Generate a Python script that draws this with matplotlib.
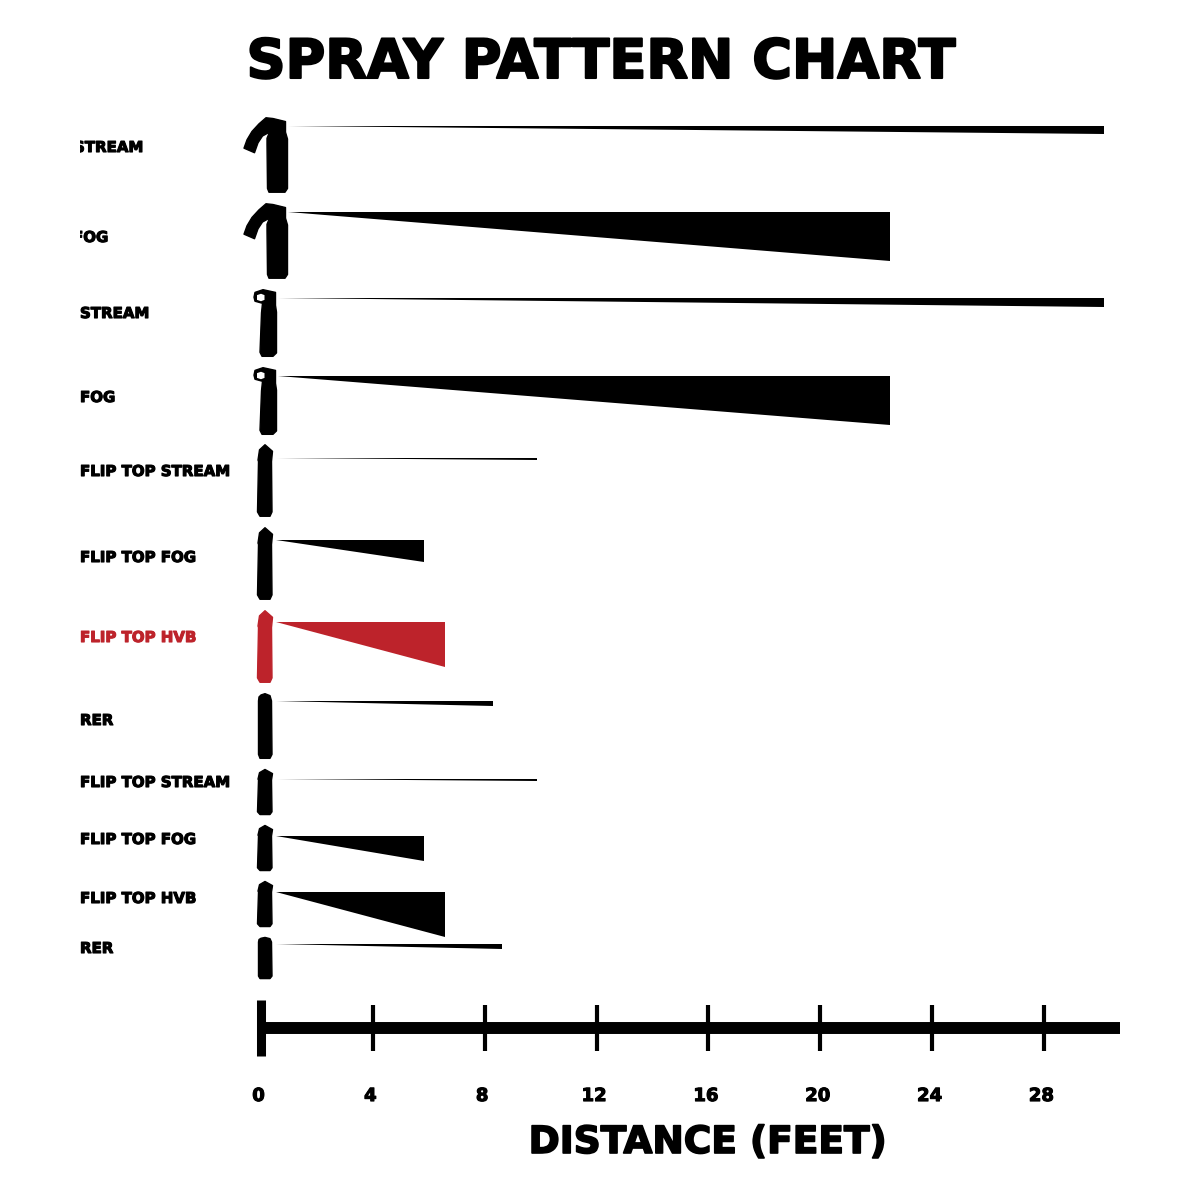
import matplotlib
matplotlib.use("Agg")
import matplotlib.pyplot as plt
import matplotlib.patheffects as pe
from matplotlib.transforms import Bbox, TransformedBbox, ScaledTranslation

# pixels per foot on the distance axis, axis zero at pixel 261
PX_PER_FT = 27.96
ZERO_PX = 261
RED = "#bd232b"
FONT = "DejaVu Sans"

labels = ["STREAM", "FOG", "STREAM", "FOG", "FLIP TOP STREAM", "FLIP TOP FOG", "FLIP TOP HVB",
          "RER", "FLIP TOP STREAM", "FLIP TOP FOG", "FLIP TOP HVB", "RER"]
label_y = [152, 242, 318, 402, 476, 562, 642, 725, 787, 844, 903, 953]
label_x = [74, 73, 80, 80, 80, 80, 80, 80, 80, 80, 80, 80]

# spray: distance in feet, and where it sits on the page
spray_start = [0.97, 0.97, 0.6, 0.6, 0.55, 0.55, 0.55, 0.55, 0.55, 0.55, 0.55, 0.55]
spray_end = [30.15, 22.5, 30.15, 22.5, 9.87, 5.83, 6.58, 8.3, 9.87, 5.83, 6.58, 8.62]
spray_y = [125.5, 212, 298, 376, 458, 540, 622, 701, 779, 836, 892, 944]
spray_spread = [8.5, 49, 9, 49, 2, 22, 45, 5, 2, 25, 45, 5]
colors = ["k", "k", "k", "k", "k", "k", RED, "k", "k", "k", "k", "k"]

bottle_kind = ["hook", "hook", "ring", "ring", "flip", "flip", "flip", "round", "flip", "flip", "flip", "round"]
bottle_top = [117, 203, 289, 367, 444, 527, 610, 693, 769, 825, 881, 937]
bottle_height = [76, 76, 68, 68, 73, 73, 73, 66, 46, 46, 46, 42]

# bottle outlines: x in pixels, y as a fraction of the bottle height
hook_x = [244, 247, 252, 259, 266, 273, 285.5, 285.5, 287.5, 287.5, 285, 269, 267.5, 267, 267, 269.5,
          262.5, 258, 254.5]
hook_y = [.41, .30, .19, .09, .01, .02, .06, .2, .29, .94, .99, .99, .94, .36, .28, .20, .25, .34, .47]
ring_x = [255, 263, 275.5, 275.5, 276.5, 276.5, 273, 262, 260, 261.5, 262.5, 255, 254]
ring_y = [.05, .01, .05, .24, .34, .94, .99, .99, .93, .35, .21, .18, .12]
hole_x = [257, 261, 264.5, 264.5, 261, 257]
hole_y = [.09, .07, .09, .16, .18, .16]
flip_x = [265, 272.5, 271.5, 272, 270, 260, 257.5, 258.5, 258, 259.5]
flip_y = [.01, .1, .24, .93, .99, .99, .93, .24, .22, .08]
round_x = [261, 265, 270, 271.5, 272, 270, 260, 258.5, 258.5, 259]
round_y = [.03, .01, .04, .12, .93, .99, .99, .93, .12, .06]
outlines = {"hook": (hook_x, hook_y), "ring": (ring_x, ring_y), "flip": (flip_x, flip_y), "round": (round_x, round_y)}

ticks = [0, 4, 8, 12, 16, 20, 24, 28]


def px_to_ft(px):
    return (px - ZERO_PX) / PX_PER_FT


fig = plt.figure(figsize=(12, 12), dpi=100)
ax = fig.add_axes([0, 0, 1, 1])
ax.set_xlim(px_to_ft(0), px_to_ft(1200))
ax.set_ylim(1200, 0)
ax.patch.set_alpha(0)

# sprays and bottles
for i in range(len(labels)):
    c = colors[i]
    ax.fill([spray_start[i], spray_end[i], spray_end[i]],
            [spray_y[i], spray_y[i], spray_y[i] + spray_spread[i]], color=c, lw=0)

    xs, ys = outlines[bottle_kind[i]]
    ax.fill([px_to_ft(x) for x in xs],
            [bottle_top[i] + y * bottle_height[i] for y in ys],
            color=c, lw=1, joinstyle="round")
    if bottle_kind[i] == "ring":
        ax.fill([px_to_ft(x) for x in hole_x],
                [bottle_top[i] + y * bottle_height[i] for y in hole_y], color="w", lw=0)

    t = ax.text(px_to_ft(label_x[i]), label_y[i], labels[i], color=c, fontsize=10.8, family=FONT,
                fontweight="bold", ha="left", va="baseline",
                path_effects=[pe.withStroke(linewidth=0.8, foreground=c)])
    # the two top labels are cut off at the left edge in the original
    t.set_clip_box(TransformedBbox(Bbox([[px_to_ft(80), 0], [px_to_ft(400), 1200]]), ax.transData))
    t.set_clip_on(True)

# distance axis
for s in ["top", "left", "right"]:
    ax.spines[s].set_visible(False)
ax.spines["bottom"].set_position(("data", 1028))
ax.spines["bottom"].set_bounds(0, px_to_ft(1120))
ax.spines["bottom"].set_linewidth(8.6)
ax.spines["bottom"].set_capstyle("butt")
ax.set_yticks([])
ax.set_xticks(ticks)
ax.set_xticklabels([str(v) for v in ticks], fontsize=13, fontweight="bold", family=FONT,
                   path_effects=[pe.withStroke(linewidth=0.8, foreground="k")])
ax.tick_params(axis="x", direction="inout", length=33, width=3, pad=26)
shift = ScaledTranslation(-2.5 / 100, 0, fig.dpi_scale_trans)
for lab in ax.get_xticklabels():
    lab.set_transform(lab.get_transform() + shift)
ax.vlines(0, 1000, 1056, color="k", lw=6.5)

ax.text(px_to_ft(601), 78, "SPRAY PATTERN CHART", fontsize=39, fontweight="bold", family=FONT,
        ha="center", va="baseline", path_effects=[pe.withStroke(linewidth=1.5, foreground="k")])
ax.text(px_to_ft(708), 1153, "DISTANCE (FEET)", fontsize=27, fontweight="bold", family=FONT,
        ha="center", va="baseline", path_effects=[pe.withStroke(linewidth=1.2, foreground="k")])

fig.savefig("out.png", dpi=100)
